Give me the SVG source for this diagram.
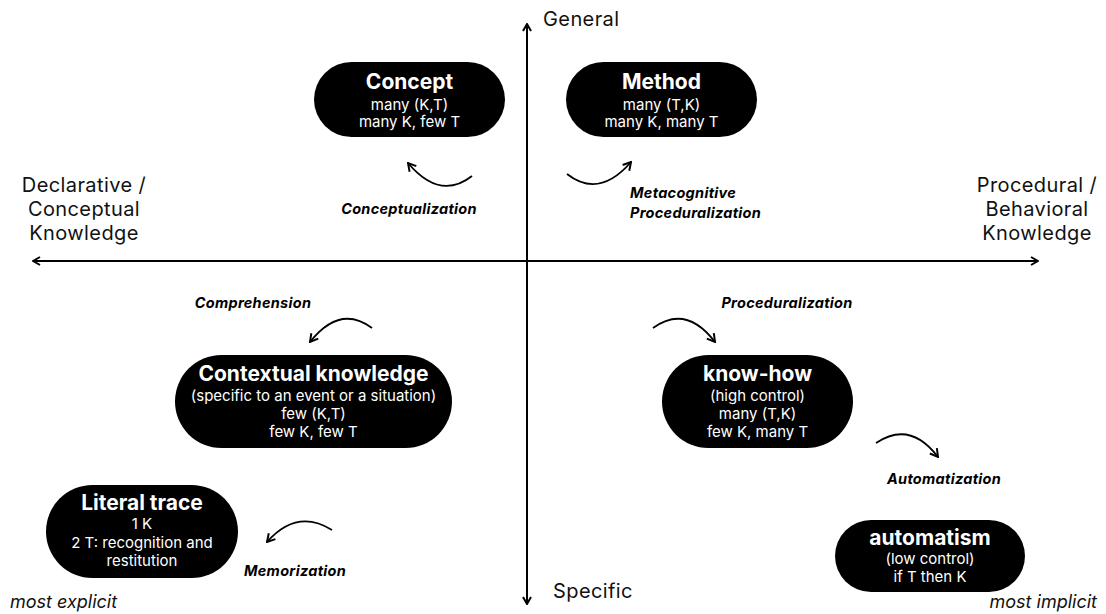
<svg xmlns="http://www.w3.org/2000/svg" width="1106" height="614" viewBox="0 0 1106 614">
<defs>
<style>
text{font-family:Inter,"Open Sans","Liberation Sans",sans-serif;}
.node rect{fill:#000;}
.t{fill:#fff;font-weight:700;font-size:21px;text-anchor:middle;}
.b{fill:#fff;font-size:15px;text-anchor:middle;}
.ax{font-size:20px;letter-spacing:0.4px;fill:#111;}
.lbl{font-size:14.5px;font-weight:700;font-style:italic;letter-spacing:0.3px;fill:#000;}
.ex{font-size:18px;font-style:italic;fill:#111;}
.axis{stroke:#000;stroke-width:2;fill:none;}
.arc{stroke:#000;stroke-width:1.8;fill:none;}
</style>
<marker id="ah" viewBox="0 0 10 10" refX="9" refY="5" markerWidth="10" markerHeight="10" markerUnits="userSpaceOnUse" orient="auto">
<path d="M2,1 L9,5 L2,9" fill="none" stroke="#000" stroke-width="2"/>
</marker>
<marker id="ah2" viewBox="0 0 10 10" refX="9" refY="5" markerWidth="11" markerHeight="11" markerUnits="userSpaceOnUse" orient="auto">
<path d="M2,1 L9,5 L2,9" fill="none" stroke="#000" stroke-width="1.8"/>
</marker>
</defs>
<rect width="1106" height="614" fill="#fff"/>

<g id="connectors">
<line class="axis" x1="527" y1="604" x2="527" y2="24" marker-end="url(#ah)"/>
<line class="axis" x1="527" y1="24" x2="527" y2="604" marker-end="url(#ah)"/>
<line class="axis" x1="35" y1="261" x2="1038" y2="261" marker-end="url(#ah)"/>
<line class="axis" x1="1038" y1="261" x2="33" y2="261" marker-end="url(#ah)"/>
<path class="arc" d="M472,176 Q440,201 408,163" marker-end="url(#ah2)"/>
<path class="arc" d="M567,174 Q599,199 631,162" marker-end="url(#ah2)"/>
<path class="arc" d="M372,328 Q340,304 310,342" marker-end="url(#ah2)"/>
<path class="arc" d="M653,328 Q686,304 715,342" marker-end="url(#ah2)"/>
<path class="arc" d="M876,443 Q910,420 938,457" marker-end="url(#ah2)"/>
<path class="arc" d="M332,530 Q297,508 267,542" marker-end="url(#ah2)"/>
</g>

<g id="axis-labels">
<text class="ax" x="543" y="26">General</text>
<text class="ax" x="553" y="598">Specific</text>
<text class="ax" text-anchor="middle" x="84" y="192">Declarative /</text>
<text class="ax" text-anchor="middle" x="84" y="216">Conceptual</text>
<text class="ax" text-anchor="middle" x="84" y="240">Knowledge</text>
<text class="ax" text-anchor="middle" x="1037" y="192">Procedural /</text>
<text class="ax" text-anchor="middle" x="1037" y="216">Behavioral</text>
<text class="ax" text-anchor="middle" x="1037" y="240">Knowledge</text>
<text class="ex" x="10" y="608">most explicit</text>
<text class="ex" x="1097" y="608" text-anchor="end">most implicit</text>
</g>

<g id="process-labels">
<text class="lbl" x="409" y="214" text-anchor="middle">Conceptualization</text>
<text class="lbl" x="630" y="198">Metacognitive</text>
<text class="lbl" x="630" y="218">Proceduralization</text>
<text class="lbl" x="253" y="308" text-anchor="middle">Comprehension</text>
<text class="lbl" x="787" y="308" text-anchor="middle">Proceduralization</text>
<text class="lbl" x="944" y="484" text-anchor="middle">Automatization</text>
<text class="lbl" x="295" y="576" text-anchor="middle">Memorization</text>
</g>

<g id="concept" class="node">
<rect x="314" y="62" width="191" height="75" rx="37.5"/>
<text class="t" x="409.5" y="89">Concept</text>
<text class="b" x="409.5" y="110">many (K,T)</text>
<text class="b" x="409.5" y="127">many K, few T</text>
</g>

<g id="method" class="node">
<rect x="566" y="62" width="191" height="75" rx="37.5"/>
<text class="t" x="661.5" y="89">Method</text>
<text class="b" x="661.5" y="110">many (T,K)</text>
<text class="b" x="661.5" y="127">many K, many T</text>
</g>

<g id="contextual-knowledge" class="node">
<rect x="175" y="355" width="277" height="93" rx="46.5"/>
<text class="t" x="313.5" y="381">Contextual knowledge</text>
<text class="b" x="313.5" y="401">(specific to an event or a situation)</text>
<text class="b" x="313.5" y="419">few (K,T)</text>
<text class="b" x="313.5" y="437">few K, few T</text>
</g>

<g id="know-how" class="node">
<rect x="662" y="355" width="191" height="93" rx="46.5"/>
<text class="t" x="757.5" y="381">know-how</text>
<text class="b" x="757.5" y="401">(high control)</text>
<text class="b" x="757.5" y="419">many (T,K)</text>
<text class="b" x="757.5" y="437">few K, many T</text>
</g>

<g id="literal-trace" class="node">
<rect x="46" y="485" width="192" height="93" rx="46.5"/>
<text class="t" x="142" y="510">Literal trace</text>
<text class="b" x="142" y="529">1 K</text>
<text class="b" x="142" y="548">2 T: recognition and</text>
<text class="b" x="142" y="566">restitution</text>
</g>

<g id="automatism" class="node">
<rect x="835" y="520" width="190" height="72" rx="36"/>
<text class="t" x="930" y="545">automatism</text>
<text class="b" x="930" y="564">(low control)</text>
<text class="b" x="930" y="582">if T then K</text>
</g>
</svg>
